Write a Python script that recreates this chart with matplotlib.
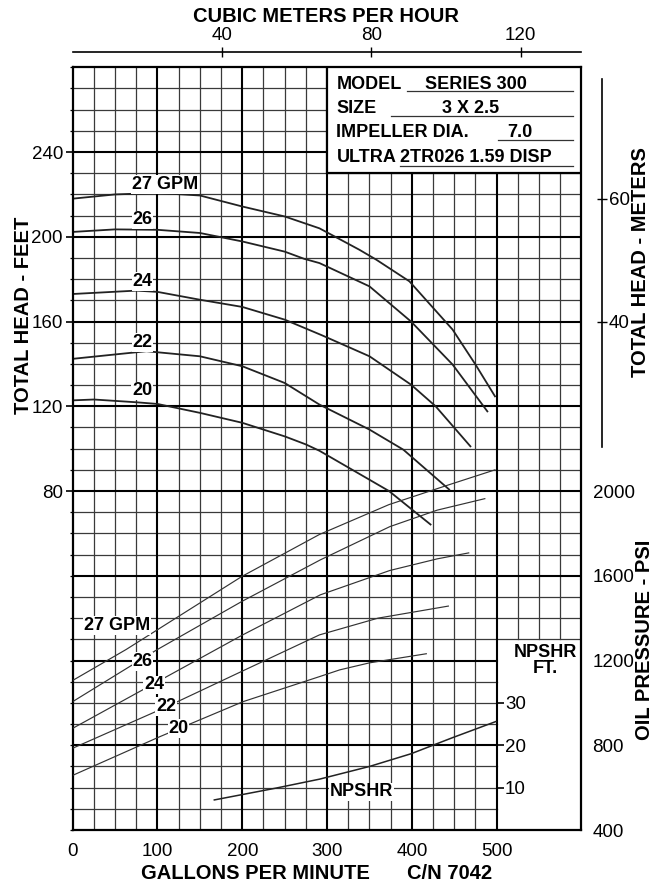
import numpy as np
import matplotlib
matplotlib.use('Agg')
import matplotlib.pyplot as plt
from matplotlib.patches import Rectangle
from matplotlib.ticker import MultipleLocator

plt.rcParams['font.family'] = ['Liberation Sans', 'DejaVu Sans']

# Head curves, GPM vs total head (feet)
h27_gpm = [0, 50, 100, 150, 200, 250, 291, 338, 358, 397, 448, 475, 498]
h27_ft = [218, 220, 220.7, 219.5, 214.3, 209.6, 204, 193.9, 189.2, 179, 156.2, 139.7, 124.7]
h26_gpm = [0, 50, 100, 150, 200, 250, 273, 291, 350, 399, 448, 489]
h26_ft = [202.3, 203.5, 203.3, 201.8, 197.8, 193, 189.6, 187.6, 176.6, 160, 139.7, 117.6]
h24_gpm = [0, 75, 100, 150, 200, 250, 294, 350, 399, 428, 469]
h24_ft = [173, 174.6, 174, 170.3, 166.9, 160.9, 153.5, 143.6, 130.2, 120, 101.1]
h22_gpm = [0, 87, 100, 150, 200, 250, 291, 350, 390, 444]
h22_ft = [142.4, 146, 145.5, 143.6, 138.9, 131, 120.8, 109, 99.5, 80.7]
h20_gpm = [0, 25, 75, 100, 150, 200, 250, 275, 291, 373, 422]
h20_ft = [122.8, 123.2, 121.9, 121.1, 116.9, 112.2, 105.8, 102, 99, 80, 64.2]

# Oil pressure curves, GPM vs PSI
p27_gpm = [0, 63, 200, 291, 373, 444, 498]
p27_psi = [1106, 1252, 1598, 1795, 1936, 2030, 2100]
p26_gpm = [0, 99, 200, 292, 374, 430, 486]
p26_psi = [1006, 1250, 1480, 1675, 1832, 1910, 1964]
p24_gpm = [0, 100, 200, 292, 374, 430, 467]
p24_psi = [880, 1100, 1320, 1510, 1625, 1680, 1708]
p22_gpm = [0, 111, 200, 291, 360, 443]
p22_psi = [786, 982, 1150, 1321, 1400, 1457]
p20_gpm = [0, 103, 201, 291, 315, 350, 417]
p20_psi = [658, 841, 1006, 1124, 1156, 1189, 1232]

# NPSHR curve, GPM vs feet
npshr_gpm = [167, 240, 291, 350, 399, 448, 499]
npshr_ft = [7.1, 9.9, 12.0, 15.0, 18.0, 21.8, 25.6]

head_ticks = [80, 120, 160, 200, 240]
psi_ticks = [400, 800, 1200, 1600, 2000]
npshr_ticks = [10, 20, 30]
m3h_ticks = [40, 80, 120]
meter_ticks = [40, 60]
meter_ft_pos = [160, 218]   # where the meter ticks sit on the feet scale
gpm_ticks = [0, 100, 200, 300, 400, 500]

fig = plt.figure(figsize=(6.7, 8.88), dpi=100)
ax = fig.add_axes([0.1085, 0.0653, 0.7594, 0.8589])
ax.set_xlim(0, 600)
ax.set_ylim(-80, 280)

thin = dict(color='#3a3a3a', lw=0.9, zorder=1)
thick = dict(color='black', lw=1.5, zorder=1.1)

# vertical grid
for x in range(25, 600, 25):
    y0 = 10 if x > 500 else -80
    ax.plot([x, x], [y0, 280], **(thick if x % 100 == 0 else thin))
# horizontal grid
for y in range(-70, 280, 10):
    x1 = 500 if y < 10 else 600
    ax.plot([0, x1], [y, y], **(thick if y % 40 == 0 else thin))

for s in ax.spines.values():
    s.set_linewidth(1.6)

ax.set_xticks(gpm_ticks)
ax.tick_params(axis='x', length=0, labelsize=13.5, pad=9)
ax.set_yticks(head_ticks)
ax.yaxis.set_minor_locator(MultipleLocator(10))
ax.tick_params(axis='y', which='major', length=5, width=1.2, labelsize=13.5, pad=2)
ax.tick_params(axis='y', which='minor', length=2.5, width=0.9)

# info box
ax.add_patch(Rectangle((300, 230), 300, 50, facecolor='white', edgecolor='black',
                       lw=1.6, zorder=3))
box_font = dict(fontsize=13, fontweight='bold', va='baseline', zorder=4)
ax.text(311, 269.7, 'MODEL', **box_font)
ax.text(416, 269.7, 'SERIES 300', **box_font)
ax.text(311, 258.4, 'SIZE', **box_font)
ax.text(435, 258.4, '3 X 2.5', **box_font)
ax.text(311, 247.1, 'IMPELLER DIA.', **box_font)
ax.text(512, 247.1, '7.0', **box_font)
ax.text(311, 235.3, 'ULTRA', **box_font)
ax.text(386, 235.3, '2TR026 1.59 DISP', **box_font)
ax.plot([394, 590], [268.6, 268.6], color='#333', lw=0.9, zorder=4)
ax.plot([375, 590], [256.8, 256.8], color='#333', lw=0.9, zorder=4)
ax.plot([501, 590], [245.5, 245.5], color='#333', lw=0.9, zorder=4)
ax.plot([386, 590], [233.2, 233.2], color='#333', lw=0.9, zorder=4)

# head curves
lab = dict(fontsize=13, fontweight='bold', ha='center', va='center', zorder=5,
           bbox=dict(facecolor='white', edgecolor='none', pad=0.5))
for g, h in [(h27_gpm, h27_ft), (h26_gpm, h26_ft), (h24_gpm, h24_ft),
             (h22_gpm, h22_ft), (h20_gpm, h20_ft)]:
    ax.plot(g, h, color='#222', lw=1.3, zorder=2)
ax.text(109, 224.6, '27 GPM', **lab)
ax.text(82, 208, '26', **lab)
ax.text(82, 178.9, '24', **lab)
ax.text(82, 150.2, '22', **lab)
ax.text(82, 127.3, '20', **lab)

# oil pressure axis
ax_oil = ax.twinx()
ax_oil.set_ylim(400, 4000)
for s in ax_oil.spines.values():
    s.set_visible(False)
ax_oil.set_yticks(psi_ticks)
ax_oil.tick_params(axis='y', length=0, labelsize=13.5, pad=8)
for g, p in [(p27_gpm, p27_psi), (p26_gpm, p26_psi), (p24_gpm, p24_psi),
             (p22_gpm, p22_psi), (p20_gpm, p20_psi)]:
    ax_oil.plot(g, p, color='#333', lw=0.85, zorder=2)
ax_oil.text(52, 1365, '27 GPM', **lab)
ax_oil.text(82, 1195, '26', **lab)
ax_oil.text(96, 1085, '24', **lab)
ax_oil.text(110, 982, '22', **lab)
ax_oil.text(125, 880, '20', **lab)

# NPSHR axis on the 500 GPM line
ax_n = ax.twinx()
ax_n.set_ylim(0, 180)
for s in ax_n.spines.values():
    s.set_visible(False)
ax_n.spines['right'].set_position(('data', 500))
ax_n.set_yticks(npshr_ticks)
ax_n.tick_params(axis='y', direction='out', length=5, width=1.2, labelsize=13.5, pad=1)
ax_n.plot(npshr_gpm, npshr_ft, color='#222', lw=1.1, zorder=2)
ax_n.text(341, 9.0, 'NPSHR', **lab)
ax_n.text(557, 40, 'NPSHR\nFT.', fontsize=13, fontweight='bold', ha='center',
          va='center', linespacing=0.95)

# meters axis
ax_m = ax.twinx()
k = (meter_ticks[1] - meter_ticks[0]) / (meter_ft_pos[1] - meter_ft_pos[0])
ax_m.set_ylim(meter_ticks[0] + (-80 - meter_ft_pos[0]) * k,
              meter_ticks[0] + (280 - meter_ft_pos[0]) * k)
for s in ax_m.spines.values():
    s.set_visible(False)
ax_m.spines['right'].set_visible(True)
ax_m.spines['right'].set_position(('outward', 15))
ax_m.spines['right'].set_linewidth(1.2)
ax_m.spines['right'].set_bounds(meter_ticks[0] + (101 - meter_ft_pos[0]) * k,
                                meter_ticks[0] + (274.6 - meter_ft_pos[0]) * k)
ax_m.set_yticks(meter_ticks)
ax_m.tick_params(axis='y', direction='inout', length=7, width=1, labelsize=13.5, pad=1)

# cubic meters per hour axis
sec = ax.secondary_xaxis(1.0205, functions=(lambda g: g / 4.4029, lambda m: m * 4.4029))
sec.set_xticks(m3h_ticks)
sec.spines['top'].set_linewidth(1.2)
sec.tick_params(direction='inout', length=7, width=1, labelsize=13.5, pad=2)

lbl = dict(fontsize=14.5, fontweight='bold', ha='center', va='center')
fig.text(326 / 670, 1 - 17 / 888, 'CUBIC METERS PER HOUR', **lbl)
fig.text(255 / 670, 1 - 873 / 888, 'GALLONS PER MINUTE', **lbl)
fig.text(450 / 670, 1 - 873 / 888, 'C/N 7042', **lbl)
fig.text(23.5 / 670, 1 - 315 / 888, 'TOTAL HEAD - FEET', rotation=90, **lbl)
fig.text(641 / 670, 1 - 262 / 888, 'TOTAL HEAD - METERS', rotation=90, **lbl)
fig.text(645 / 670, 1 - 640 / 888, 'OIL PRESSURE - PSI', rotation=90, **lbl)

fig.savefig('out.png', dpi=100)
